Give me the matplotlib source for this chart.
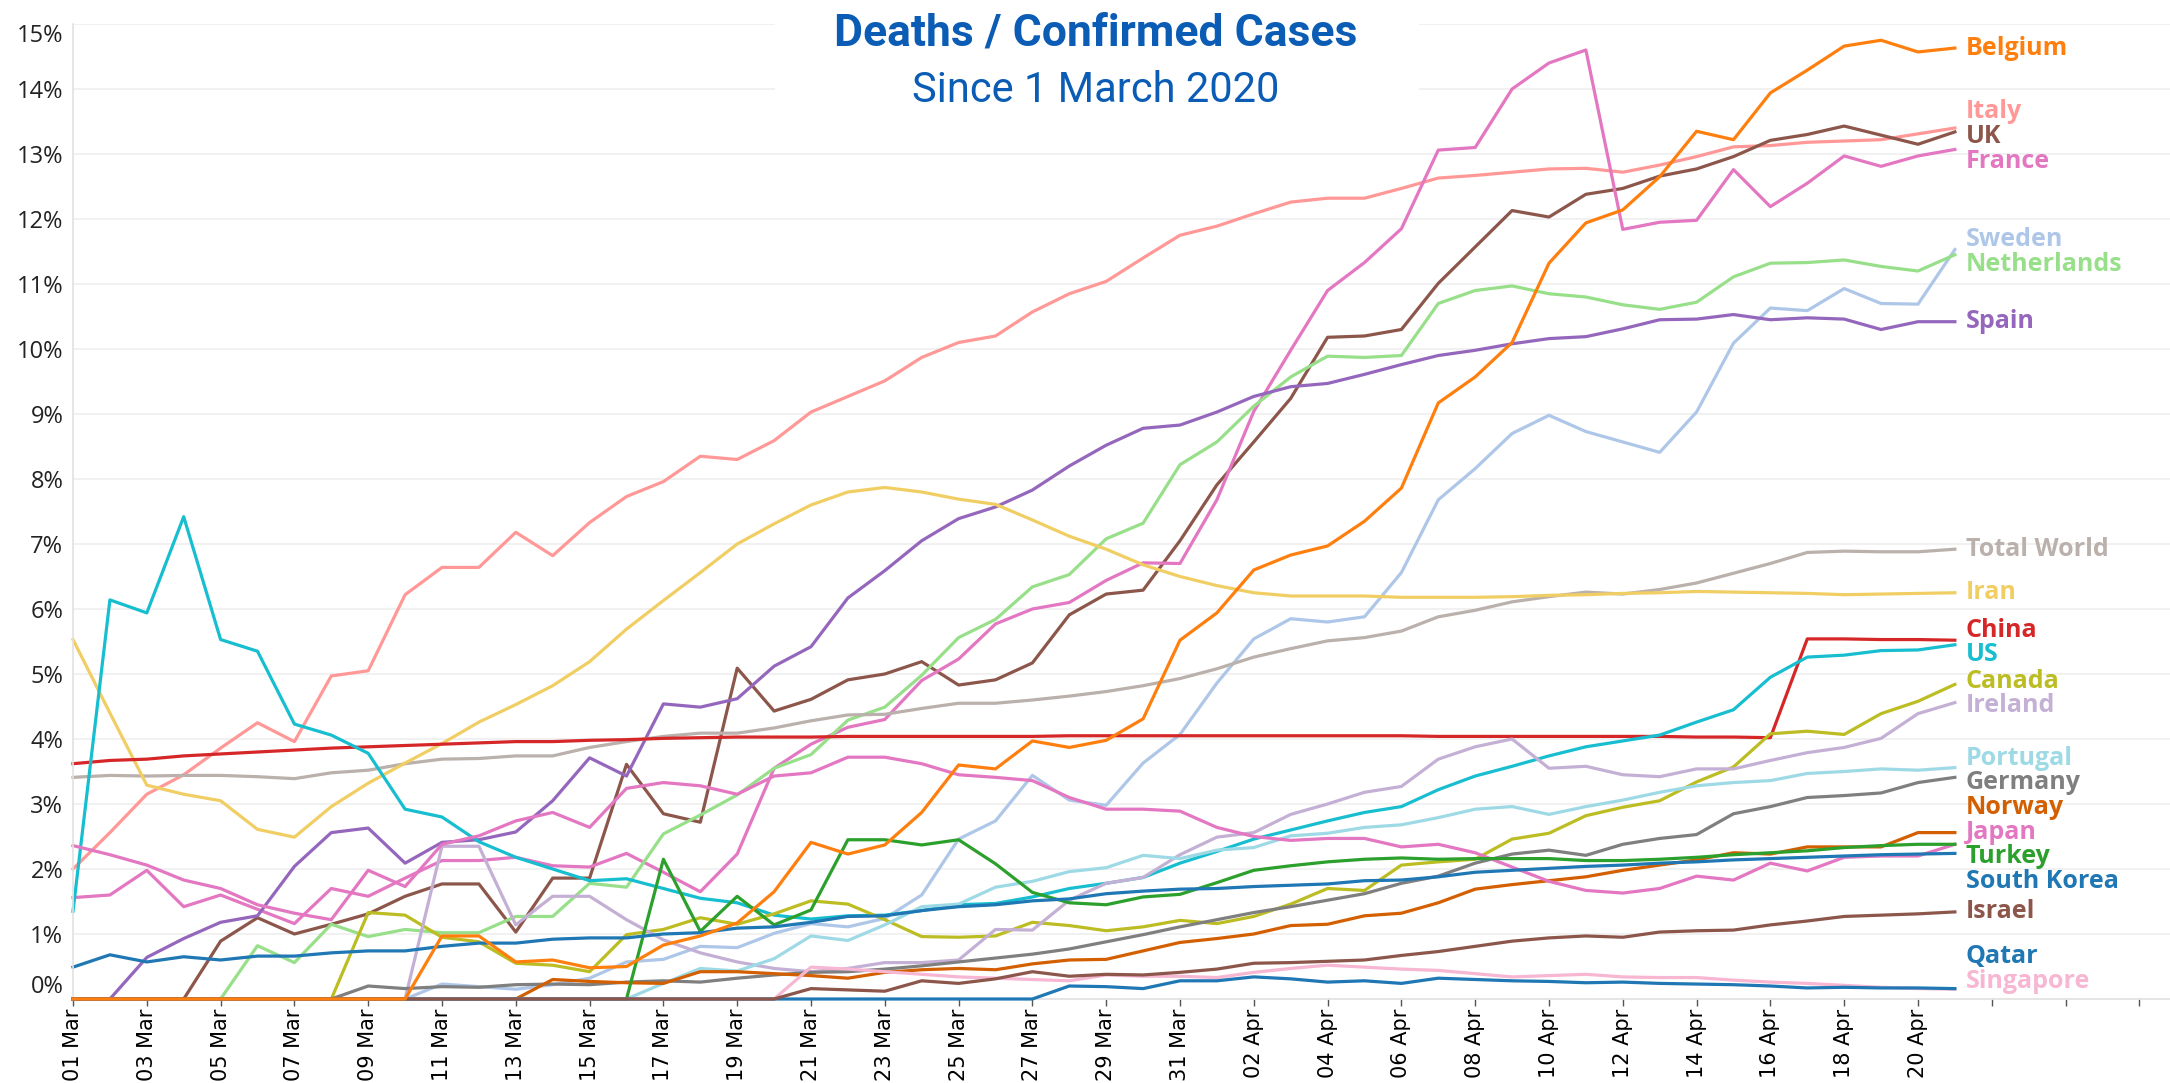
import numpy as np
import pandas as pd
import matplotlib
matplotlib.use("Agg")
import matplotlib.pyplot as plt
from matplotlib import font_manager
from matplotlib.patches import Rectangle

# ---- data: deaths / confirmed cases in %, one value per day, 1 Mar .. 21 Apr 2020
days = pd.date_range("2020-03-01", "2020-04-21")

belgium = [0, 0, 0, 0, 0, 0, 0, 0, 0, 0,
           0.97, 0.97, 0.57, 0.60, 0.48, 0.50, 0.83, 0.97, 1.17, 1.65,
           2.41, 2.23, 2.37, 2.87, 3.60, 3.54, 3.97, 3.87, 3.98, 4.31,
           5.52, 5.94, 6.60, 6.83, 6.97, 7.35, 7.86, 9.17, 9.57, 10.10,
           11.32, 11.94, 12.14, 12.65, 13.35, 13.22, 13.94, 14.29, 14.66, 14.75,
           14.57, 14.63]
italy = [2.00, 2.56, 3.15, 3.45, 3.86, 4.25, 3.96, 4.97, 5.05, 6.22,
         6.64, 6.64, 7.18, 6.82, 7.33, 7.73, 7.96, 8.35, 8.30, 8.59,
         9.03, 9.27, 9.51, 9.87, 10.10, 10.20, 10.57, 10.85, 11.04, 11.40,
         11.75, 11.89, 12.08, 12.26, 12.32, 12.32, 12.47, 12.63, 12.67, 12.72,
         12.77, 12.78, 12.72, 12.83, 12.96, 13.11, 13.13, 13.18, 13.20, 13.22,
         13.31, 13.40]
uk = [0, 0, 0, 0, 0.89, 1.25, 1.00, 1.15, 1.31, 1.58,
      1.77, 1.77, 1.03, 1.86, 1.86, 3.61, 2.85, 2.72, 5.09, 4.43,
      4.61, 4.91, 5.00, 5.19, 4.83, 4.91, 5.17, 5.91, 6.23, 6.29,
      7.05, 7.91, 8.57, 9.24, 10.18, 10.20, 10.30, 11.01, 11.57, 12.13,
      12.03, 12.38, 12.47, 12.66, 12.77, 12.96, 13.21, 13.30, 13.43, 13.29,
      13.15, 13.34]
france = [1.56, 1.60, 1.98, 1.42, 1.60, 1.38, 1.16, 1.70, 1.58, 1.86,
          2.13, 2.13, 2.18, 2.05, 2.03, 2.24, 1.95, 1.65, 2.23, 3.55,
          3.92, 4.18, 4.30, 4.90, 5.23, 5.77, 6.00, 6.10, 6.44, 6.71,
          6.70, 7.68, 9.04, 9.98, 10.90, 11.33, 11.85, 13.06, 13.10, 14.00,
          14.40, 14.60, 11.84, 11.95, 11.98, 12.76, 12.19, 12.55, 12.97, 12.81,
          12.97, 13.07]
sweden = [0, 0, 0, 0, 0, 0, 0, 0, 0, 0,
          0.23, 0.19, 0.15, 0.22, 0.32, 0.57, 0.61, 0.81, 0.79, 1.01,
          1.16, 1.11, 1.24, 1.60, 2.46, 2.74, 3.44, 3.06, 2.98, 3.63,
          4.07, 4.86, 5.54, 5.85, 5.80, 5.88, 6.56, 7.68, 8.16, 8.70,
          8.98, 8.73, 8.57, 8.41, 9.03, 10.09, 10.63, 10.59, 10.93, 10.70,
          10.69, 11.53]
netherlands = [0, 0, 0, 0, 0, 0.82, 0.56, 1.15, 0.96, 1.07,
               1.02, 1.02, 1.27, 1.27, 1.78, 1.72, 2.54, 2.83, 3.14, 3.55,
               3.76, 4.29, 4.49, 4.98, 5.56, 5.84, 6.34, 6.53, 7.08, 7.32,
               8.22, 8.57, 9.12, 9.57, 9.89, 9.87, 9.90, 10.70, 10.90, 10.97,
               10.85, 10.80, 10.68, 10.61, 10.72, 11.11, 11.32, 11.33, 11.37, 11.27,
               11.20, 11.45]
spain = [0, 0, 0.64, 0.93, 1.18, 1.28, 2.04, 2.56, 2.63, 2.09,
         2.41, 2.45, 2.57, 3.05, 3.71, 3.43, 4.54, 4.49, 4.62, 5.12,
         5.42, 6.17, 6.59, 7.05, 7.39, 7.57, 7.83, 8.20, 8.52, 8.78,
         8.83, 9.03, 9.27, 9.42, 9.47, 9.61, 9.76, 9.90, 9.98, 10.08,
         10.16, 10.19, 10.31, 10.45, 10.46, 10.53, 10.45, 10.48, 10.46, 10.30,
         10.42, 10.42]
total_world = [3.41, 3.44, 3.43, 3.44, 3.44, 3.42, 3.39, 3.48, 3.52, 3.62,
               3.69, 3.70, 3.74, 3.74, 3.87, 3.96, 4.04, 4.09, 4.09, 4.17,
               4.28, 4.37, 4.38, 4.47, 4.55, 4.55, 4.60, 4.66, 4.73, 4.82,
               4.93, 5.08, 5.26, 5.39, 5.51, 5.56, 5.66, 5.88, 5.98, 6.11,
               6.19, 6.26, 6.23, 6.30, 6.40, 6.55, 6.70, 6.87, 6.89, 6.88,
               6.88, 6.92]
iran = [5.53, 4.40, 3.29, 3.15, 3.05, 2.61, 2.49, 2.96, 3.32, 3.63,
        3.93, 4.26, 4.53, 4.82, 5.19, 5.69, 6.13, 6.56, 7.00, 7.31,
        7.60, 7.80, 7.87, 7.80, 7.69, 7.61, 7.37, 7.12, 6.92, 6.68,
        6.50, 6.36, 6.25, 6.20, 6.20, 6.20, 6.18, 6.18, 6.18, 6.19,
        6.21, 6.22, 6.24, 6.25, 6.27, 6.26, 6.25, 6.24, 6.22, 6.23,
        6.24, 6.25]
china = [3.62, 3.67, 3.69, 3.74, 3.77, 3.80, 3.83, 3.86, 3.88, 3.90,
         3.92, 3.94, 3.96, 3.96, 3.98, 3.99, 4.01, 4.02, 4.03, 4.03,
         4.03, 4.04, 4.04, 4.04, 4.04, 4.04, 4.04, 4.05, 4.05, 4.05,
         4.05, 4.05, 4.05, 4.05, 4.05, 4.05, 4.05, 4.04, 4.04, 4.04,
         4.04, 4.04, 4.04, 4.04, 4.03, 4.03, 4.02, 5.54, 5.54, 5.53,
         5.53, 5.52]
us = [1.35, 6.14, 5.94, 7.42, 5.53, 5.35, 4.23, 4.06, 3.78, 2.92,
      2.80, 2.42, 2.18, 2.00, 1.82, 1.85, 1.70, 1.55, 1.48, 1.29,
      1.23, 1.28, 1.29, 1.36, 1.45, 1.47, 1.57, 1.70, 1.78, 1.87,
      2.09, 2.27, 2.46, 2.60, 2.74, 2.87, 2.96, 3.22, 3.43, 3.58,
      3.74, 3.88, 3.97, 4.06, 4.26, 4.45, 4.95, 5.26, 5.29, 5.36,
      5.37, 5.45]
canada = [0, 0, 0, 0, 0, 0, 0, 0, 1.33, 1.29,
          0.95, 0.88, 0.55, 0.52, 0.42, 0.99, 1.07, 1.25, 1.15, 1.31,
          1.51, 1.46, 1.22, 0.96, 0.95, 0.97, 1.18, 1.13, 1.05, 1.11,
          1.21, 1.16, 1.27, 1.46, 1.70, 1.67, 2.06, 2.11, 2.15, 2.46,
          2.55, 2.82, 2.95, 3.05, 3.34, 3.57, 4.08, 4.12, 4.07, 4.39,
          4.58, 4.84]
ireland = [0, 0, 0, 0, 0, 0, 0, 0, 0, 0,
           2.35, 2.35, 1.14, 1.58, 1.58, 1.22, 0.91, 0.71, 0.57, 0.47,
           0.42, 0.47, 0.56, 0.56, 0.60, 1.07, 1.06, 1.52, 1.78, 1.87,
           2.22, 2.49, 2.56, 2.84, 3.00, 3.18, 3.27, 3.69, 3.88, 4.00,
           3.55, 3.58, 3.45, 3.42, 3.54, 3.54, 3.67, 3.79, 3.87, 4.01,
           4.39, 4.56]
portugal = [0, 0, 0, 0, 0, 0, 0, 0, 0, 0,
            0, 0, 0, 0, 0, 0, 0.24, 0.47, 0.43, 0.62,
            0.97, 0.90, 1.14, 1.42, 1.46, 1.72, 1.81, 1.96, 2.02, 2.21,
            2.16, 2.29, 2.33, 2.51, 2.55, 2.64, 2.68, 2.79, 2.92, 2.96,
            2.84, 2.96, 3.06, 3.18, 3.28, 3.33, 3.36, 3.47, 3.50, 3.54,
            3.52, 3.56]
germany = [0, 0, 0, 0, 0, 0, 0, 0, 0.20, 0.16,
           0.19, 0.18, 0.22, 0.23, 0.22, 0.26, 0.28, 0.26, 0.32, 0.37,
           0.41, 0.42, 0.46, 0.51, 0.57, 0.63, 0.69, 0.77, 0.88, 0.99,
           1.11, 1.22, 1.33, 1.42, 1.52, 1.62, 1.78, 1.89, 2.09, 2.23,
           2.29, 2.21, 2.38, 2.47, 2.53, 2.85, 2.96, 3.10, 3.13, 3.17,
           3.33, 3.41]
norway = [0, 0, 0, 0, 0, 0, 0, 0, 0, 0,
          0, 0, 0, 0.30, 0.27, 0.25, 0.24, 0.42, 0.42, 0.39,
          0.36, 0.32, 0.41, 0.45, 0.47, 0.45, 0.54, 0.60, 0.61, 0.74,
          0.87, 0.93, 1.00, 1.13, 1.15, 1.28, 1.32, 1.48, 1.69, 1.76,
          1.82, 1.88, 1.98, 2.06, 2.14, 2.25, 2.23, 2.34, 2.34, 2.34,
          2.56, 2.56]
japan = [2.36, 2.22, 2.06, 1.83, 1.70, 1.45, 1.32, 1.22, 1.98, 1.73,
         2.38, 2.51, 2.74, 2.87, 2.64, 3.24, 3.33, 3.28, 3.15, 3.43,
         3.48, 3.72, 3.72, 3.62, 3.45, 3.41, 3.36, 3.10, 2.92, 2.92,
         2.89, 2.64, 2.50, 2.44, 2.47, 2.47, 2.34, 2.38, 2.25, 2.03,
         1.81, 1.67, 1.63, 1.70, 1.89, 1.83, 2.09, 1.97, 2.18, 2.20,
         2.20, 2.38]
turkey = [0, 0, 0, 0, 0, 0, 0, 0, 0, 0,
          0, 0, 0, 0, 0, 0, 2.15, 1.04, 1.58, 1.14,
          1.37, 2.45, 2.45, 2.37, 2.45, 2.08, 1.64, 1.48, 1.45, 1.57,
          1.61, 1.79, 1.98, 2.05, 2.11, 2.15, 2.17, 2.15, 2.16, 2.16,
          2.16, 2.13, 2.13, 2.15, 2.18, 2.22, 2.25, 2.28, 2.33, 2.36,
          2.38, 2.38]
south_korea = [0.49, 0.68, 0.57, 0.65, 0.60, 0.66, 0.66, 0.71, 0.74, 0.74,
               0.81, 0.86, 0.86, 0.92, 0.94, 0.94, 1.00, 1.02, 1.09, 1.11,
               1.18, 1.27, 1.28, 1.36, 1.42, 1.45, 1.51, 1.54, 1.62, 1.66,
               1.69, 1.70, 1.73, 1.75, 1.77, 1.82, 1.83, 1.88, 1.95, 1.98,
               2.01, 2.04, 2.06, 2.09, 2.11, 2.14, 2.16, 2.18, 2.20, 2.22,
               2.23, 2.24]
israel = [0, 0, 0, 0, 0, 0, 0, 0, 0, 0,
          0, 0, 0, 0, 0, 0, 0, 0, 0, 0,
          0.16, 0.14, 0.12, 0.28, 0.24, 0.31, 0.42, 0.35, 0.38, 0.37,
          0.41, 0.46, 0.55, 0.56, 0.58, 0.60, 0.67, 0.73, 0.81, 0.89,
          0.94, 0.97, 0.95, 1.03, 1.05, 1.06, 1.14, 1.20, 1.27, 1.29,
          1.31, 1.34]
qatar = [0, 0, 0, 0, 0, 0, 0, 0, 0, 0,
         0, 0, 0, 0, 0, 0, 0, 0, 0, 0,
         0, 0, 0, 0, 0, 0, 0, 0.20, 0.19, 0.16,
         0.28, 0.28, 0.34, 0.31, 0.26, 0.28, 0.24, 0.32, 0.30, 0.28,
         0.27, 0.25, 0.26, 0.24, 0.23, 0.22, 0.20, 0.17, 0.18, 0.17,
         0.17, 0.16]
singapore = [0, 0, 0, 0, 0, 0, 0, 0, 0, 0,
             0, 0, 0, 0, 0, 0, 0, 0, 0, 0,
             0.49, 0.46, 0.42, 0.38, 0.34, 0.32, 0.30, 0.28, 0.37, 0.35,
             0.35, 0.33, 0.41, 0.47, 0.52, 0.49, 0.46, 0.44, 0.39, 0.34,
             0.36, 0.38, 0.34, 0.33, 0.33, 0.29, 0.26, 0.24, 0.21, 0.18,
             0.16, 0.15]

names = ["Belgium", "Italy", "UK", "France", "Sweden", "Netherlands", "Spain",
         "Total World", "Iran", "China", "US", "Canada", "Ireland", "Portugal",
         "Germany", "Norway", "Japan", "Turkey", "South Korea", "Israel",
         "Qatar", "Singapore"]
series = [belgium, italy, uk, france, sweden, netherlands, spain,
          total_world, iran, china, us, canada, ireland, portugal,
          germany, norway, japan, turkey, south_korea, israel,
          qatar, singapore]
colors = ["#ff7f0e", "#ff9896", "#8c564b", "#e377c2", "#aec7e8", "#98df8a", "#9467bd",
          "#bab0ac", "#f1ce63", "#d62728", "#17becf", "#bcbd22", "#c5b0d5", "#9edae5",
          "#7f7f7f", "#d35f00", "#e377c2", "#2ca02c", "#1f77b4", "#8c564b",
          "#1f77b4", "#f7b6d2"]

# ---- fonts
available = {f.name for f in font_manager.fontManager.ttflist}
def pick(*fams):
    for f in fams:
        if f in available:
            return f
    return "DejaVu Sans"
title_font = pick("Roboto", "Open Sans", "Noto Sans")
label_font = pick("Open Sans", "Noto Sans", "Lato")

def spread(vals, gap=0.38, lo=0.27):
    # push end labels apart so they don't overlap
    order = sorted(range(len(vals)), key=lambda i: (-vals[i], i))
    pos = [float(v) for v in vals]
    for _ in range(600):
        for a, b in zip(order[:-1], order[1:]):
            d = pos[a] - pos[b]
            if d < gap:
                s = (gap - d) / 2
                pos[a] += s
                pos[b] -= s
        if pos[order[-1]] < lo:
            pos[order[-1]] = lo
    return pos

# ---- figure
fig = plt.figure(figsize=(21.7, 10.83), dpi=100)
ax = fig.add_axes([73 / 2170, 1 - 999 / 1083, 1 - 73 / 2170, 975 / 1083])

x = np.arange(len(days))
top_z = {"Belgium": 2.9, "Israel": 2.8, "Qatar": 2.7}
for name, vals, c in zip(names, series, colors):
    ax.plot(x, vals, color=c, lw=2.3, clip_on=False, zorder=top_z.get(name, 2),
            solid_joinstyle="round")

last = [s[-1] for s in series]
for name, c, yl in zip(names, colors, spread(last)):
    ax.text(x[-1] + 0.3, yl, name, color=c, fontsize=18, fontweight="bold",
            family=label_font, ha="left", va="center")

ax.set_xlim(0, 56.83)
ax.set_ylim(0, 15)
ticks = list(range(0, 57, 2))
ax.set_xticks(ticks)
ax.set_xticklabels([days[i].strftime("%d %b") if i < len(days) else "" for i in ticks],
                   rotation=90, fontsize=15, family="DejaVu Sans")
ax.set_yticks(range(0, 16))
ax.set_yticklabels([f"{v}%" for v in range(0, 16)], fontsize=17, family=label_font,
                   color="#222222")
ax.tick_params(axis="y", length=0, pad=7)
ax.tick_params(axis="x", length=5, width=1, color="#555555", pad=2)
ylabs = ax.get_yticklabels()
ylabs[0].set_va("bottom")
ylabs[-1].set_va("top")

ax.grid(axis="y", color="#efefef", lw=1.2)
ax.set_axisbelow(True)
for s in ["top", "right"]:
    ax.spines[s].set_visible(False)
for s in ["left", "bottom"]:
    ax.spines[s].set_color("#e2e2e2")
    ax.spines[s].set_linewidth(1.2)

# title block with white backing over the gridlines
fig.add_artist(Rectangle((775 / 2170, 1 - 120 / 1083), (1419 - 775) / 2170, 120 / 1083,
                         transform=fig.transFigure, facecolor="white", edgecolor="none",
                         zorder=1))
fig.text(0.505, 1 - 45 / 1083, "Deaths / Confirmed Cases", ha="center", va="baseline",
         fontsize=32, fontweight="bold", color="#0b5cb5", family=title_font, zorder=3)
fig.text(0.505, 1 - 102 / 1083, "Since 1 March 2020", ha="center", va="baseline",
         fontsize=30, color="#0b5cb5", family=title_font, zorder=3)

fig.savefig("out.png", dpi=100)
